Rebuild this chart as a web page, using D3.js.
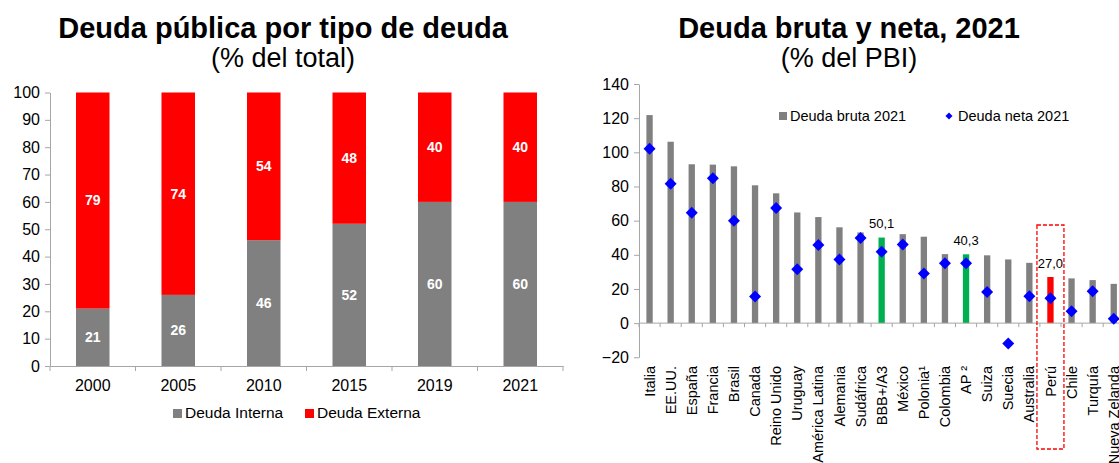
<!DOCTYPE html>
<html>
<head>
<meta charset="utf-8">
<script src="https://cdn.jsdelivr.net/npm/d3@7"></script>
<style>
  body { margin: 0; background: #fff; font-family: "Liberation Sans", Arial, sans-serif; }
  svg text { fill: #000; }
  .axis path, .axis line { stroke: #a6a6a6; }
  .axis text { font-size: 16px; font-family: "Liberation Sans", Arial, sans-serif; }
</style>
</head>
<body>
<script>
// left chart: public debt by type (% of total)
const years = ["2000", "2005", "2010", "2015", "2019", "2021"];
const interna = [21, 26, 46, 52, 60, 60];
const externa = [79, 74, 54, 48, 40, 40];

// right chart: gross and net debt 2021 (% of GDP)
const countries = ["Italia", "EE.UU.", "España", "Francia", "Brasil", "Canada", "Reino Unido", "Uruguay",
  "América Latina", "Alemania", "Sudáfrica", "BBB+/A3", "México", "Polonia¹", "Colombia", "AP ²",
  "Suiza", "Suecia", "Australia", "Perú", "Chile", "Turquía", "Nueva Zelanda"];
const bruta = [121.8, 106.2, 93.0, 92.8, 91.8, 80.7, 76.0, 64.8, 62.1, 56.1, 53.1, 50.1, 52.1, 50.6,
  40.4, 40.3, 39.7, 37.3, 35.3, 27.0, 26.2, 25.2, 23.0];
const neta = [102.1, 81.6, 64.6, 84.8, 59.9, 15.6, 67.4, 31.6, 45.7, 37.3, 49.8, 41.8, 46.1, 29.1,
  35.0, 35.0, 18.3, -11.9, 15.8, 14.6, 7.0, 18.6, 2.5];
const labelled = ["BBB+/A3", "AP ²", "Perú"];

const svg = d3.select("body").append("svg")
    .attr("width", 1119)
    .attr("height", 463);

function title(x, main, sub) {
  svg.append("text")
      .attr("x", x).attr("y", 38)
      .attr("text-anchor", "middle")
      .style("font-size", "29px").style("font-weight", "bold")
      .text(main);
  svg.append("text")
      .attr("x", x).attr("y", 67)
      .attr("text-anchor", "middle")
      .style("font-size", "27px")
      .text(sub);
}

// ---------- left ----------
title(283, "Deuda pública por tipo de deuda", "(% del total)");

const x1 = d3.scaleBand().domain(years).range([50, 563]).paddingInner(0.608).paddingOuter(0.304);
const y1 = d3.scaleLinear().domain([0, 100]).range([366, 92.5]);
const left = svg.append("g");

left.append("g")
    .attr("class", "axis")
    .attr("transform", "translate(50,0)")
    .call(d3.axisLeft(y1).tickValues(d3.range(0, 101, 10)).tickSize(5).tickSizeOuter(0).tickPadding(5));

let rows = years.map((y, i) => ({ year: y, interna: interna[i], externa: externa[i] }));
let stacked = d3.stack().keys(["interna", "externa"])(rows);
let fills = { interna: "#808080", externa: "#ff0000" };

let series = left.selectAll(".series").data(stacked)
  .enter().append("g")
    .attr("class", "series")
    .attr("fill", d => fills[d.key]);

series.selectAll("rect").data(d => d)
  .enter().append("rect")
    .attr("x", d => x1(d.data.year))
    .attr("width", x1.bandwidth())
    .attr("y", d => y1(d[1]))
    .attr("height", d => y1(d[0]) - y1(d[1]));

series.selectAll(".val").data(d => d)
  .enter().append("text")
    .attr("class", "val")
    .attr("x", d => x1(d.data.year) + x1.bandwidth() / 2)
    .attr("y", d => (y1(d[0]) + y1(d[1])) / 2)
    .attr("dy", ".35em")
    .attr("text-anchor", "middle")
    .style("fill", "#fff")
    .style("font-size", "14px")
    .style("font-weight", "bold")
    .text(d => d[1] - d[0]);

let xAxis1 = left.append("g")
    .attr("class", "axis")
    .attr("transform", `translate(0,${y1(0)})`)
    .call(d3.axisBottom(x1).tickSize(0).tickPadding(14));
xAxis1.selectAll(".bound").data(years.concat([null]))
  .enter().append("line")
    .attr("class", "bound")
    .attr("x1", (d, i) => x1.range()[0] + i * x1.step())
    .attr("x2", (d, i) => x1.range()[0] + i * x1.step())
    .attr("y1", 0).attr("y2", 5);

let leg1 = left.append("g").style("font-size", "15.5px");
[["Deuda Interna", fills.interna, 173], ["Deuda Externa", fills.externa, 305]].forEach(([name, c, lx]) => {
  leg1.append("rect").attr("x", lx).attr("y", 409).attr("width", 9).attr("height", 9).attr("fill", c);
  leg1.append("text").attr("x", lx + 12).attr("y", 418).text(name);
});

// ---------- right ----------
title(849, "Deuda bruta y neta, 2021", "(% del PBI)");

const x2 = d3.scaleBand().domain(countries).range([639, 639 + 23 * 21.1]).paddingInner(0.7).paddingOuter(0.35);
const y2 = d3.scaleLinear().domain([-20, 140]).range([357.3, 84]);
const right = svg.append("g");

right.append("g")
    .attr("class", "axis")
    .attr("transform", "translate(639,0)")
    .call(d3.axisLeft(y2).tickValues(d3.range(-20, 141, 20)).tickSize(5).tickSizeOuter(0).tickPadding(5));

function barColor(c) {
  if (c === "Perú") return "#ff0000";
  if (c === "BBB+/A3" || c === "AP ²") return "#00b050";
  return "#808080";
}

let pts = countries.map((c, i) => ({ c, bruta: bruta[i], neta: neta[i] }));

right.selectAll(".bar").data(pts)
  .enter().append("rect")
    .attr("class", "bar")
    .attr("x", d => x2(d.c))
    .attr("width", x2.bandwidth())
    .attr("y", d => y2(Math.max(0, d.bruta)))
    .attr("height", d => Math.abs(y2(d.bruta) - y2(0)))
    .attr("fill", d => barColor(d.c));

// zero line with category boundary ticks
let zero = right.append("g").attr("class", "axis").attr("transform", `translate(0,${y2(0)})`);
zero.append("line").attr("x1", x2.range()[0]).attr("x2", x2.range()[1]);
zero.selectAll(".bound").data(countries)
  .enter().append("line")
    .attr("class", "bound")
    .attr("x1", (d, i) => x2.range()[0] + i * x2.step())
    .attr("x2", (d, i) => x2.range()[0] + i * x2.step())
    .attr("y1", 0).attr("y2", 4);

right.selectAll(".clab").data(countries)
  .enter().append("text")
    .attr("class", "clab")
    .attr("transform", d => `translate(${x2(d) + x2.bandwidth() / 2},366) rotate(-90)`)
    .attr("dy", ".35em")
    .attr("text-anchor", "end")
    .style("font-size", "14.5px")
    .text(d => d);

let fmt = v => d3.format(".1f")(v).replace(".", ",");
right.selectAll(".blab").data(pts.filter(d => labelled.includes(d.c)))
  .enter().append("text")
    .attr("class", "blab")
    .attr("x", d => x2(d.c) + x2.bandwidth() / 2)
    .attr("y", d => y2(d.bruta) - 9.5)
    .attr("text-anchor", "middle")
    .style("font-size", "13px")
    .text(d => fmt(d.bruta));

let diamond = d3.symbol(d3.symbolSquare, 72);
right.selectAll(".net").data(pts)
  .enter().append("path")
    .attr("class", "net")
    .attr("d", diamond)
    .attr("transform", d => `translate(${x2(d.c) + x2.bandwidth() / 2},${y2(d.neta)}) rotate(45)`)
    .attr("fill", "#0000ff");

// highlight box round Peru
let pc = x2("Perú") + x2.bandwidth() / 2;
right.append("rect")
    .attr("x", pc - 13.5).attr("y", 225)
    .attr("width", 27).attr("height", 224)
    .attr("fill", "none")
    .attr("stroke", "#ff0000")
    .attr("stroke-width", 1.3)
    .attr("stroke-dasharray", "4,2");

let leg2 = right.append("g").style("font-size", "14.5px");
leg2.append("rect").attr("x", 779).attr("y", 112).attr("width", 8).attr("height", 8).attr("fill", "#808080");
leg2.append("text").attr("x", 790).attr("y", 121).text("Deuda bruta 2021");
leg2.append("path").attr("d", d3.symbol(d3.symbolSquare, 25)).attr("transform", "translate(949,116) rotate(45)").attr("fill", "#0000ff");
leg2.append("text").attr("x", 958).attr("y", 121).text("Deuda neta 2021");
</script>
</body>
</html>
